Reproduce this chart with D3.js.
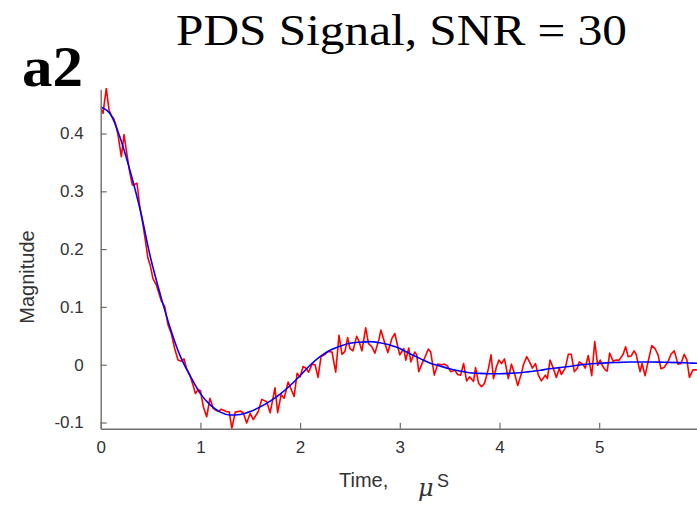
<!DOCTYPE html>
<html>
<head>
<meta charset="utf-8">
<script src="https://cdn.jsdelivr.net/npm/d3@7"></script>
<style>
  html, body { margin: 0; padding: 0; background: #fff; }
  svg { display: block; }
</style>
</head>
<body>
<svg id="chart" width="697" height="508"></svg>
<script>
// ---- data ----
const fitTime = [0,0.1,0.2,0.3,0.4,0.5,0.6,0.7,0.8,0.9,1.0,1.1,1.2,1.3,1.4,1.5,1.6,1.7,1.8,1.9,2.0,
  2.1,2.2,2.3,2.4,2.5,2.6,2.7,2.8,2.9,3.0,3.1,3.2,3.3,3.4,3.5,3.6,3.7,3.8,3.9,4.0,
  4.1,4.2,4.3,4.4,4.5,4.6,4.7,4.8,4.9,5.0,5.1,5.2,5.3,5.4,5.5,5.6,5.7,5.8,5.9,6.0];
const fitValue = [0.446,0.433,0.390,0.332,0.265,0.185,0.120,0.062,0.014,-0.020,-0.050,
  -0.070,-0.082,-0.087,-0.086,-0.081,-0.073,-0.063,-0.051,-0.036,-0.019,
  -0.001,0.014,0.025,0.032,0.037,0.039,0.040,0.038,0.034,0.028,
  0.019,0.011,0.003,-0.002,-0.007,-0.011,-0.014,-0.015,-0.0155,-0.0155,
  -0.015,-0.014,-0.012,-0.010,-0.007,-0.005,-0.003,-0.0005,0.0012,0.0024,
  0.0036,0.004,0.0047,0.0047,0.0047,0.0045,0.004,0.0036,0.003,0.0025];

const noisyTime = [0,0.023,0.056,0.083,0.106,0.13,0.15,0.173,0.207,0.234,0.257,0.29,0.317,0.34,0.364,0.39,
  0.424,0.45,0.474,0.497,0.524,0.558,0.608,0.642,0.675,0.708,0.742,0.775,0.808,0.836,0.86,0.893,0.926,
  0.95,0.976,1.0,1.03,1.063,1.096,1.13,1.18,1.21,1.26,1.29,1.315,1.35,1.40,1.43,1.464,1.50,1.53,1.58,
  1.615,1.665,1.70,1.748,1.775,1.81,1.84,1.88,1.94,1.97,2.0,2.03,2.06,2.085,2.12,2.15,2.18,2.21,2.25,
  2.28,2.32,2.357,2.39,2.42,2.45,2.477,2.50,2.53,2.567,2.59,2.62,2.658,2.685,2.72,2.75,2.79,2.81,2.85,
  2.88,2.92,2.95,2.98,3.0,3.04,3.06,3.09,3.11,3.15,3.17,3.19,3.23,3.25,3.286,3.31,3.346,3.38,3.42,3.45,
  3.48,3.51,3.55,3.58,3.61,3.64,3.67,3.70,3.74,3.76,3.79,3.82,3.85,3.89,3.915,3.94,3.97,3.995,4.02,4.05,
  4.088,4.12,4.15,4.183,4.22,4.24,4.273,4.31,4.33,4.36,4.39,4.42,4.46,4.48,4.507,4.54,4.57,4.60,4.62,
  4.66,4.69,4.72,4.75,4.78,4.80,4.84,4.86,4.89,4.925,4.955,4.985,5.01,5.03,5.06,5.08,5.105,5.14,5.17,
  5.20,5.24,5.265,5.29,5.32,5.35,5.37,5.41,5.43,5.46,5.49,5.527,5.56,5.59,5.62,5.65,5.69,5.72,5.753,
  5.79,5.82,5.853,5.88,5.905,5.94,5.98];
const noisyValue = [0.444,0.435,0.478,0.441,0.431,0.426,0.416,0.398,0.360,0.398,0.371,0.334,0.311,0.312,0.314,0.276,
  0.242,0.213,0.184,0.172,0.149,0.138,0.110,0.101,0.069,0.054,0.028,0.008,0.006,0.010,-0.006,-0.018,-0.035,
  -0.050,-0.043,-0.045,-0.073,-0.090,-0.058,-0.076,-0.081,-0.077,-0.081,-0.082,-0.110,-0.082,-0.080,-0.083,-0.101,-0.084,-0.095,-0.081,
  -0.060,-0.064,-0.083,-0.040,-0.083,-0.052,-0.058,-0.030,-0.055,-0.015,-0.021,-0.003,-0.006,-0.013,0.001,0.000,-0.022,0.014,0.018,
  0.023,0.022,-0.013,0.051,0.018,0.023,0.047,0.028,0.024,0.049,0.041,0.024,0.064,0.037,0.031,0.020,0.043,0.060,0.037,
  0.021,0.045,0.054,0.031,0.017,0.028,0.008,0.029,0.005,0.022,0.017,-0.012,0.005,0.012,0.027,0.022,-0.018,0.001,0.000,0.001,
  -0.003,-0.012,-0.009,-0.017,-0.018,0.002,-0.028,-0.021,-0.029,-0.005,-0.032,-0.038,-0.032,-0.006,0.017,-0.024,-0.003,0.008,0.002,0.010,
  -0.024,0.001,-0.015,-0.036,-0.015,0.000,0.014,0.002,-0.006,0.002,-0.018,-0.028,-0.018,-0.024,0.008,-0.006,-0.022,-0.006,-0.017,
  -0.006,0.018,0.018,-0.012,-0.006,0.005,0.000,-0.006,0.016,-0.019,0.040,-0.001,0.008,-0.001,-0.009,-0.011,0.020,0.006,0.008,
  0.008,0.018,0.031,0.014,0.015,0.024,0.018,-0.012,0.002,-0.019,0.005,0.033,0.028,0.017,-0.007,-0.005,0.005,0.018,0.024,
  0.001,0.002,0.018,0.008,-0.022,-0.009,-0.009];

const xTicks = [0,1,2,3,4,5];
const xTickLabels = ["0","1","2","3","4","5"];
const yTicks = [-0.1,0,0.1,0.2,0.3,0.4];
const yTickLabels = ["-0.1","0","0.1","0.2","0.3","0.4"];

const titleText = "PDS Signal, SNR = 30";
const panelLabel = "a2";
const yLabelText = "Magnitude";
const xLabelText = "Time,";

// ---- drawing ----
(function draw() {
const svg = d3.select("#chart");
const pLeft = 100.7, pRight = 698.9, pTop = 89.3, pBottom = 428.7;

const x = d3.scaleLinear().domain([0, 6]).range([pLeft, pRight]);
const y = d3.scaleLinear().domain([-0.1107, 0.4765]).range([pBottom, pTop]);

svg.append("defs").append("clipPath").attr("id", "clip")
  .append("rect").attr("x", pLeft).attr("y", pTop - 2).attr("width", pRight - pLeft).attr("height", pBottom - pTop + 2);

const axisColor = "#6e6e6e";
const textColor = "#333333";

const noisy = noisyTime.map((t, i) => [t, noisyValue[i]]);
const fit = fitTime.map((t, i) => [t, fitValue[i]]);

const plot = svg.append("g").attr("clip-path", "url(#clip)");
plot.append("path")
  .attr("d", d3.line().x(d => x(d[0])).y(d => y(d[1]))(noisy))
  .attr("fill", "none").attr("stroke", "#ff0000").attr("stroke-width", 1.6)
  .attr("stroke-linejoin", "round");
plot.append("path")
  .attr("d", d3.line().curve(d3.curveMonotoneX).x(d => x(d[0])).y(d => y(d[1]))(fit))
  .attr("fill", "none").attr("stroke", "#0000ff").attr("stroke-width", 1.6);

// axes
const xAxis = d3.axisBottom(x).tickValues(xTicks).tickFormat((d, i) => xTickLabels[i])
  .tickSizeInner(-6).tickSizeOuter(0).tickPadding(12);
const yAxis = d3.axisLeft(y).tickValues(yTicks).tickFormat((d, i) => yTickLabels[i])
  .tickSizeInner(-6).tickSizeOuter(0).tickPadding(17);

const gx = svg.append("g").attr("transform", `translate(0,${pBottom})`).call(xAxis);
const gy = svg.append("g").attr("transform", `translate(${pLeft},0)`).call(yAxis);

[gx, gy].forEach(g => {
  g.select(".domain").attr("stroke", axisColor).attr("stroke-width", 1.4);
  g.selectAll(".tick line").attr("stroke", axisColor).attr("stroke-width", 1.2);
  g.selectAll(".tick text").attr("fill", textColor)
    .style("font-family", "'Liberation Sans', Arial, sans-serif").style("font-size", "17px");
});

// axis labels
svg.append("text")
  .attr("transform", "translate(34,277) rotate(-90)")
  .attr("text-anchor", "middle")
  .attr("fill", textColor)
  .style("font-family", "'Liberation Sans', Arial, sans-serif").style("font-size", "20px")
  .text(yLabelText);

const xl = svg.append("text")
  .attr("x", 339).attr("y", 487)
  .attr("fill", textColor)
  .style("font-family", "'Liberation Sans', Arial, sans-serif").style("font-size", "20px");
xl.append("tspan").text(xLabelText);
xl.append("tspan").attr("x", 418).attr("y", 496)
  .style("font-family", "'DejaVu Serif', serif").style("font-style", "italic").style("font-size", "24px")
  .text("\u03BC");
xl.append("tspan").attr("x", 437).attr("y", 487).style("font-size", "18px").text("S");

// title & panel label
svg.append("text")
  .attr("x", 176).attr("y", 45)
  .attr("textLength", 451).attr("lengthAdjust", "spacingAndGlyphs")
  .attr("fill", "#000")
  .style("font-family", "'Liberation Serif', 'Times New Roman', serif").style("font-size", "45px")
  .text(titleText);

svg.append("text")
  .attr("x", 22).attr("y", 86)
  .attr("textLength", 61).attr("lengthAdjust", "spacingAndGlyphs")
  .attr("fill", "#000")
  .style("font-family", "'Liberation Serif', 'Times New Roman', serif").style("font-weight", "bold").style("font-size", "58px")
  .text(panelLabel);
})();
</script>
</body>
</html>
